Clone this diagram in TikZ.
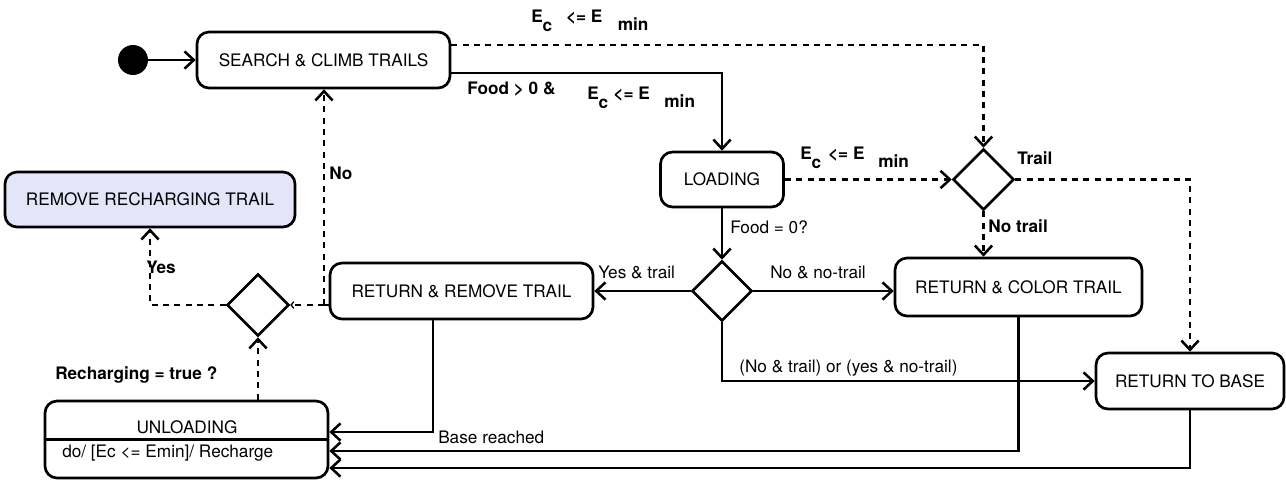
\documentclass[tikz,border=0pt]{standalone}
\usepackage{fontspec}
\setmainfont{TeX Gyre Heros}
\usetikzlibrary{arrows.meta,shapes.geometric}
\definecolor{lav}{RGB}{229,229,249}
\newcommand\ecmin[2]{E\raisebox{-0.55em}{c}\hspace{#1}<= E\hspace{#2}\raisebox{-0.5em}{min}}
\begin{document}
\begin{tikzpicture}[x=0.75pt,y=-0.75pt,
  every node/.style={font=\fontsize{12.9}{15}\selectfont},
  box/.style={draw,line width=2pt,rounded corners=9pt,inner sep=0pt,align=center},
  dia/.style={draw,diamond,aspect=1,line width=1.9pt,inner sep=0pt,minimum width=45.75pt,minimum height=45.75pt},
  conn/.style={line width=1.9pt},
  tip/.style={-{Straight Barb[length=7pt,width=13pt,line width=1.9pt]}},
  arr/.style={conn,tip},
  dsh/.style={conn,dash pattern=on 4.5pt off 4pt},
  darr/.style={dsh,tip},
  lbl/.style={inner sep=0pt,anchor=base west},
  blbl/.style={lbl,font=\fontsize{12.9}{15}\selectfont\bfseries}]
\useasboundingbox (0,0) rectangle (1286,483);

% nodes
\node[circle,fill,inner sep=0pt,minimum size=22.5pt] (dot) at (133,60) {};
\node[box,minimum width=189.75pt,minimum height=42pt] (search) at (323.5,60) {SEARCH \& CLIMB TRAILS};
\node[box,minimum width=92.25pt,minimum height=41.25pt] (loading) at (722,179.5) {LOADING};
\node[dia] (d1) at (983.5,179.5) {};
\node[box,minimum width=185.25pt,minimum height=43.5pt] (colortrail) at (1018.5,287) {RETURN \& COLOR TRAIL};
\node[dia,minimum width=45pt,minimum height=45pt] (d2) at (722,291) {};
\node[box,minimum width=197.25pt,minimum height=42pt] (removetrail) at (461.5,291) {RETURN \& REMOVE TRAIL};
\node[dia,minimum width=46.5pt,minimum height=46.5pt] (d3) at (258,305) {};
\node[box,fill=lav,minimum width=217.5pt,minimum height=41.25pt] (removerech) at (150,199.5) {REMOVE RECHARGING TRAIL};
\node[box,minimum width=212.25pt,minimum height=57.75pt] (unloading) at (186.5,439.5) {};
\node[box,minimum width=141pt,minimum height=42pt] (returnbase) at (1190,381) {RETURN TO BASE};
\coordinate (j) at (324,305);

% unloading contents
\draw[line width=2pt] (unloading.west) -- (unloading.east);
\node (unl) at (187,427) {UNLOADING};
\node[lbl] (unldo) at (62,457) {do/ [Ec <= Emin]/ Recharge};

% connectors
\draw[arr] (dot.east) -- (search.west);
\draw[darr] ([yshift=11.25pt]search.east) -| (d1.north);
\draw[arr] ([yshift=-9.75pt]search.east) -| (loading.north);
\draw[darr] (loading.east) -- (d1.west);
\draw[darr] (d1.east) -| (returnbase.north);
\draw[darr] (d1.south) -- (d1.south |- colortrail.north);
\draw[arr] (loading.south) -- (d2.north);
\draw[arr] (d2.west) -- (removetrail.east);
\draw[arr] (d2.east) -- (colortrail.west |- d2.east);
\draw[arr] (d2.south) |- (returnbase.west);
\draw[arr] ([xshift=-21.4pt]removetrail.south) |- ([yshift=5.6pt]unloading.east);
\draw[arr] (colortrail.south) |- ([yshift=-8.6pt]unloading.east);
\draw[arr] (returnbase.south) |- ([yshift=-21.4pt]unloading.east);
\draw[darr] (d3.south |- unloading.north) -- (d3.south);
\draw[darr] (d3.west) -| (removerech.south);
\draw[dsh] (removetrail.west |- j) -- (j);
\draw[dsh,-{Straight Barb[length=2pt,width=5pt,line width=1pt]}] (j) -- (d3.east);
\draw[darr] (j) -- (j |- search.south);

% labels
\node[blbl] (l1) at (531,22) {\ecmin{0.8em}{0.9em}};
\node[blbl] (l2) at (467,94) {Food > 0 \&};
\node[blbl] (l3) at (587,99) {\ecmin{0.3em}{0.85em}};
\node[blbl] (l4) at (800,159) {\ecmin{0.4em}{0.8em}};
\node[blbl] (l5) at (1017,164) {Trail};
\node[blbl] (l6) at (988,232) {No trail};
\node[lbl] (l7) at (730,233) {Food = 0?};
\node[lbl] (l8) at (598,278) {Yes \& trail};
\node[lbl] (l9) at (770,278) {No \& no-trail};
\node[lbl] (l10) at (739,372) {(No \& trail) or (yes \& no-trail)};
\node[lbl] (l11) at (438,443) {Base reached};
\node[blbl] (l12) at (55,379) {Recharging = true ?};
\node[blbl] (l13) at (146,273) {Yes};
\node[blbl] (l14) at (329,179) {No};
\end{tikzpicture}
\end{document}
